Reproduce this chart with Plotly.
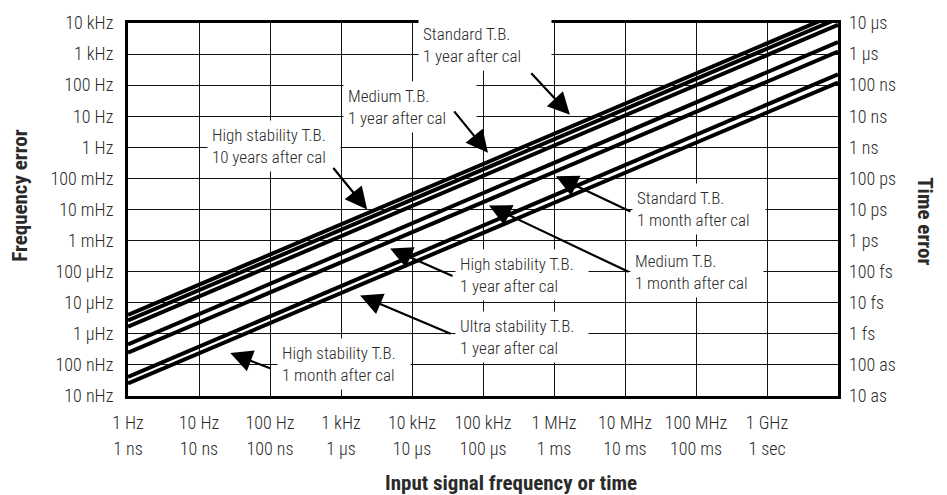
import plotly.graph_objects as go

# ---------------- data ----------------
x_tick_vals = [1e0, 1e1, 1e2, 1e3, 1e4, 1e5, 1e6, 1e7, 1e8, 1e9]
x_freq_labels = ["1 Hz", "10 Hz", "100 Hz", "1 kHz", "10 kHz", "100 kHz", "1 MHz", "10 MHz", "100 MHz", "1 GHz"]
x_time_labels = ["1 ns", "10 ns", "100 ns", "1 µs", "10 µs", "100 µs", "1 ms", "10 ms", "100 ms", "1 sec"]

y_tick_vals = [1e-8, 1e-7, 1e-6, 1e-5, 1e-4, 1e-3, 1e-2, 1e-1, 1e0, 1e1, 1e2, 1e3, 1e4]
y_freq_labels = ["10 nHz", "100 nHz", "1 µHz", "10 µHz", "100 µHz", "1 mHz", "10 mHz", "100 mHz",
                 "1 Hz", "10 Hz", "100 Hz", "1 kHz", "10 kHz"]
y_time_labels = ["10 as", "100 as", "1 fs", "10 fs", "100 fs", "1 ps", "10 ps", "100 ps",
                 "1 ns", "10 ns", "100 ns", "1 µs", "10 µs"]

# each error line: frequency error at 1 Hz and at 10 GHz
line_f_start = 1.0
line_f_end = 1e10
line_err_start = [4.06e-6, 2.72e-6, 1.70e-6, 4.6e-7, 2.47e-7, 4.1e-8, 2.56e-8]
line_err_end = [2.07e4, 1.39e4, 8.67e3, 2.45e3, 1.2e3, 222, 122]

# annotation labels
label_texts = [
    "Standard T.B.<br>1 year after cal",
    "Medium T.B.<br>1 year after cal",
    "High stability T.B.<br>10 years after cal",
    "Standard T.B.<br>1 month after cal",
    "Medium T.B.<br>1 month after cal",
    "High stability T.B.<br>1 year after cal",
    "Ultra stability T.B.<br>1 year after cal",
    "High stability T.B.<br>1 month after cal",
]
# label box left edge (log10 Hz) and vertical center (log10 Hz error)
label_x = [4.085, 3.030, 1.116, 7.097, 7.069, 4.606, 4.606, 2.101]
label_y = [3.287, 1.309, 0.034, -1.976, -4.003, -4.102, -6.116, -6.967]
# arrow tips (log10 Hz, log10 error) and tail offsets in px
arrow_tip_x = [6.224, 5.070, 3.368, 6.027, 5.084, 3.691, 3.269, 1.440]
arrow_tip_y = [1.048, -0.177, -1.999, -0.931, -1.874, -3.256, -4.764, -6.618]
arrow_dx = [-40, -35, -35, 76, 141, 64, 92, 42]
arrow_dy = [-43, -43, -43, 36, 67, 28, 39, 16]

FONT = "Roboto Condensed, Liberation Sans Narrow, DejaVu Sans Condensed, sans-serif"
TXT = "#2a2a2a"

W, H = 947, 495
ml, mr, mt, mb = 128, 109, 14, 99
pw, ph = W - ml - mr, H - mt - mb

fig = go.Figure()

for s, e in zip(line_err_start, line_err_end):
    fig.add_trace(go.Scatter(
        x=[line_f_start, line_f_end], y=[s, e], mode="lines",
        line=dict(color="black", width=4), showlegend=False, hoverinfo="skip"))

# invisible trace to carry the secondary (time) axes
fig.add_trace(go.Scatter(x=[line_f_start], y=[y_tick_vals[0]], xaxis="x2", yaxis="y2", mode="markers",
                         marker=dict(opacity=0), showlegend=False, hoverinfo="skip"))

for t, lx, ly in zip(label_texts, label_x, label_y):
    fig.add_annotation(x=lx, y=ly, xref="x", yref="y", text=t, showarrow=False,
                       xanchor="left", yanchor="middle", align="left",
                       bgcolor="white", borderpad=4, width=124,
                       font=dict(family=FONT, size=17, color=TXT, weight=300))

for tx, ty, dx, dy in zip(arrow_tip_x, arrow_tip_y, arrow_dx, arrow_dy):
    fig.add_annotation(x=tx, y=ty, xref="x", yref="y", text="", showarrow=True,
                       ax=dx, ay=dy, arrowhead=2, arrowsize=2.0, arrowwidth=2.2,
                       arrowcolor="black", standoff=0)

def px2paper(x, y):
    return (x - ml) / pw, 1 - (y - mt) / ph

titles = [("<b>Frequency error</b>", 20, 191, -90),
          ("<b>Time error</b>", 925, 217, 90),
          ("<b>Input signal frequency or time</b>", 511, 485, 0)]
for t, x, y, ang in titles:
    px, py = px2paper(x, y)
    fig.add_annotation(x=px, y=py, xref="paper", yref="paper", text=t, showarrow=False,
                       textangle=ang, xanchor="center", yanchor="middle",
                       font=dict(family=FONT, size=21, color=TXT))

axis_common = dict(showgrid=True, gridcolor="#111", gridwidth=1, zeroline=False, ticks="")
tf = dict(size=18, family=FONT, color=TXT, weight=300)

fig.update_layout(
    width=W, height=H,
    margin=dict(l=ml, r=mr, t=mt, b=mb),
    plot_bgcolor="white", paper_bgcolor="white",
    font=dict(family=FONT, color=TXT),
    xaxis=dict(type="log", range=[0, 10], tickvals=x_tick_vals, ticktext=x_freq_labels,
               tickfont=tf, tickangle=0, ticklabelstandoff=8,
               showline=True, linecolor="black", linewidth=3, mirror=True, **axis_common),
    xaxis2=dict(type="log", range=[0, 10], tickvals=x_tick_vals, ticktext=x_time_labels,
                overlaying="x", side="bottom", anchor="y", tickfont=tf, tickangle=0,
                ticklabelstandoff=40, showgrid=False, zeroline=False, ticks="", showline=False),
    yaxis=dict(type="log", range=[-8, 4], tickvals=y_tick_vals, ticktext=y_freq_labels,
               tickfont=tf, ticklabelstandoff=8,
               showline=True, linecolor="black", linewidth=3, mirror=True, **axis_common),
    yaxis2=dict(type="log", range=[-8, 4], tickvals=y_tick_vals, ticktext=y_time_labels,
                overlaying="y", side="right", anchor="x", showgrid=False, zeroline=False, ticks="",
                ticklabelstandoff=10, showline=False, tickfont=tf),
)

fig.write_html("out.html", config={"displayModeBar": False},
               post_script="document.body.style.margin='0';")
